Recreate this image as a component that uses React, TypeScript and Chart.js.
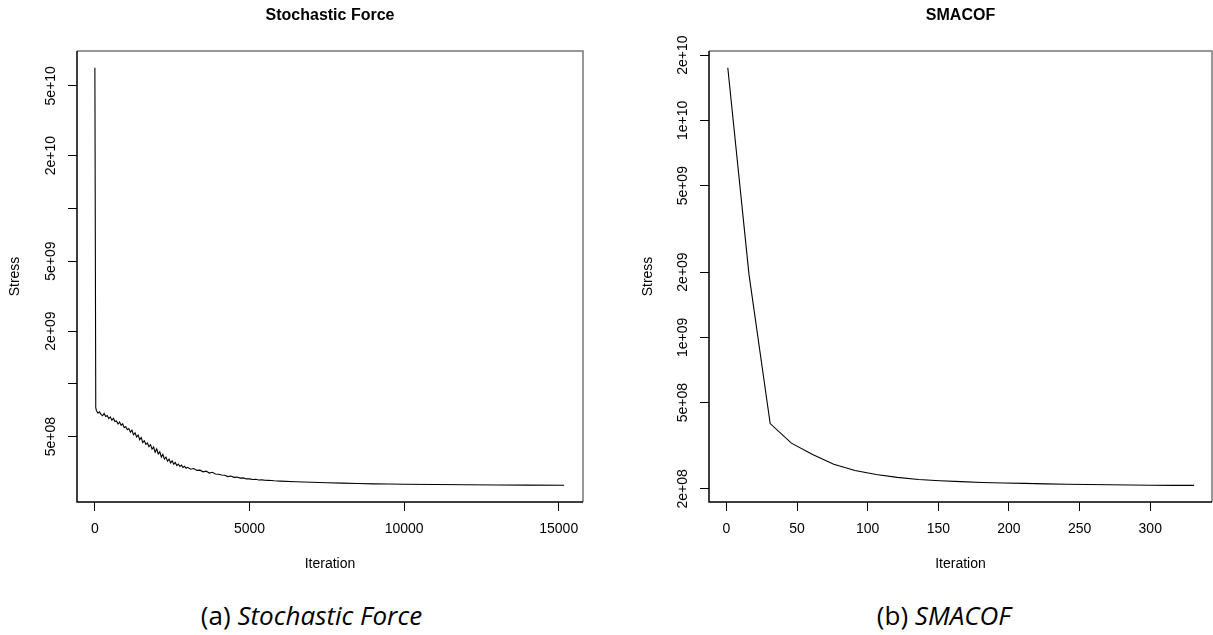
import React, { useEffect, useRef } from "react";
import { Chart, registerables } from "chart.js";

Chart.register(...registerables);

// ---------- Stochastic Force data (stress in units of 1e8) ----------
const sfIter = [
  1, 30, 50, 100, 150, 200, 250, 300, 350, 400, 450, 500, 550, 600, 650, 700, 750, 800, 850, 900, 950,
  1000, 1050, 1100, 1150, 1200, 1250, 1300, 1350, 1400, 1450, 1500, 1550, 1600, 1650, 1700, 1750, 1800,
  1850, 1900, 1950, 2000, 2050, 2100, 2150, 2200, 2250, 2300, 2350, 2400, 2450, 2500, 2550, 2600, 2650,
  2700, 2750, 2800, 2850, 2900, 2950, 3000, 3100, 3200, 3300, 3400, 3500, 3600, 3700, 3800, 3900, 4000,
  4100, 4200, 4300, 4400, 4500, 4600, 4700, 4800, 4900, 5000, 5100, 5200, 5300, 5400, 5500, 5600, 5700,
  5800, 5900, 6000, 6500, 7000, 7500, 8000, 8500, 9000, 9500, 10000, 11000, 12000, 13000, 14000, 15176,
];
const sfStressE8 = [
  634, 7.3, 7.05, 6.8, 6.92, 6.7, 6.58, 6.78, 6.52, 6.6, 6.34, 6.48, 6.2, 6.36, 6.1, 6.14, 5.9, 6.06,
  5.8, 5.92, 5.62, 5.7, 5.48, 5.56, 5.3, 5.44, 5.12, 5.26, 4.98, 5.1, 4.8, 4.94, 4.62, 4.74, 4.52, 4.6,
  4.38, 4.5, 4.24, 4.36, 4.08, 4.26, 3.98, 4.1, 3.82, 3.96, 3.72, 3.82, 3.62, 3.72, 3.54, 3.64, 3.48, 3.56,
  3.42, 3.49, 3.38, 3.44, 3.34, 3.39, 3.3, 3.34, 3.26, 3.29, 3.21, 3.22, 3.15, 3.18, 3.1, 3.13, 3.06, 3.05,
  3.02, 3.01, 2.96, 2.98, 2.93, 2.94, 2.9, 2.91, 2.87, 2.87, 2.85, 2.855, 2.83, 2.835, 2.82, 2.815, 2.81,
  2.8, 2.795, 2.79, 2.765, 2.745, 2.73, 2.715, 2.7, 2.69, 2.683, 2.675, 2.665, 2.658, 2.652, 2.646, 2.64,
];

// ---------- SMACOF data (stress in units of 1e8) ----------
const smIter = [1, 16, 31, 46, 61, 76, 91, 106, 121, 136, 151, 166, 181, 196, 211, 226, 241, 256, 271, 286, 301, 316, 331];
const smStressE8 = [
  175, 19.5, 4.0, 3.25, 2.88, 2.6, 2.43, 2.33, 2.26, 2.21, 2.18, 2.16, 2.14, 2.13, 2.12, 2.11, 2.1, 2.095,
  2.09, 2.085, 2.08, 2.077, 2.075,
];

// ---------- axis ticks ----------
const sfXTicks = [0, 5000, 10000, 15000];
const sfYTicks = [5e8, 1e9, 2e9, 5e9, 1e10, 2e10, 5e10];
const sfYLabels = ["5e+08", "", "2e+09", "5e+09", "", "2e+10", "5e+10"];
const smXTicks = [0, 50, 100, 150, 200, 250, 300];
const smYTicks = [2e8, 5e8, 1e9, 2e9, 5e9, 1e10, 2e10];
const smYLabels = ["2e+08", "5e+08", "1e+09", "2e+09", "5e+09", "1e+10", "2e+10"];

const FONT = "'Liberation Sans', Arial, Helvetica, sans-serif";

type PanelProps = {
  title: string;
  iters: number[];
  stressE8: number[];
  xTicks: number[];
  yTicks: number[];
  yLabels: string[];
  xMin: number;
  xMax: number;
  yMin: number;
  yMax: number;
  width: number;
  height: number;
  areaLeft: number;
  areaRight: number;
  areaTop: number;
  areaBottom: number;
  stressX: number;
  left: number;
};

function Panel(p: PanelProps) {
  const ref = useRef<HTMLCanvasElement | null>(null);
  useEffect(() => {
    if (!ref.current) return;
    const points = p.iters.map((x, i) => ({ x, y: p.stressE8[i] * 1e8 }));
    const framePlugin = {
      id: "rframe",
      afterDraw(chart: any) {
        const { ctx, chartArea: a } = chart;
        ctx.save();
        ctx.strokeStyle = "#777";
        ctx.lineWidth = 1.5;
        ctx.beginPath();
        ctx.moveTo(a.left, a.top);
        ctx.lineTo(a.right, a.top);
        ctx.lineTo(a.right, a.bottom);
        ctx.stroke();
        ctx.strokeStyle = "#000";
        ctx.beginPath();
        ctx.moveTo(a.left, a.top);
        ctx.lineTo(a.left, a.bottom);
        ctx.lineTo(a.right, a.bottom);
        ctx.stroke();
        ctx.fillStyle = "#000";
        ctx.textAlign = "center";
        ctx.textBaseline = "middle";
        const cx = (a.left + a.right) / 2;
        ctx.font = `bold 16px ${FONT}`;
        ctx.fillText(p.title, cx, 16);
        ctx.font = `14px ${FONT}`;
        ctx.fillText("Iteration", cx, 564.3);
        ctx.translate(p.stressX, (a.top + a.bottom) / 2);
        ctx.rotate(-Math.PI / 2);
        ctx.fillText("Stress", 0, 0);
        ctx.restore();
      },
    };
    const chart = new Chart(ref.current, {
      type: "line",
      data: {
        datasets: [
          {
            data: points,
            borderColor: "#000",
            borderWidth: 1.1,
            pointRadius: 0,
            tension: 0,
            fill: false,
          },
        ],
      },
      options: {
        animation: false,
        responsive: false,
        devicePixelRatio: 1,
        layout: {
          padding: { left: 0, top: p.areaTop, right: p.width - p.areaRight, bottom: 0 },
        },
        plugins: { legend: { display: false }, title: { display: false }, tooltip: { enabled: false } },
        scales: {
          x: {
            type: "linear",
            min: p.xMin,
            max: p.xMax,
            afterBuildTicks: (s: any) => {
              s.ticks = p.xTicks.map((v) => ({ value: v }));
            },
            afterFit: (s: any) => {
              s.height = p.height - p.areaBottom;
            },
            grid: { display: true, drawOnChartArea: false, drawTicks: true, tickLength: 9, color: "#000", lineWidth: 1 },
            border: { display: false },
            ticks: {
              autoSkip: false,
              maxRotation: 0,
              minRotation: 0,
              padding: 10,
              color: "#000",
              font: { family: FONT, size: 14 },
              callback: (v: any) => String(v),
            },
          },
          y: {
            type: "logarithmic",
            min: p.yMin,
            max: p.yMax,
            afterBuildTicks: (s: any) => {
              s.ticks = p.yTicks.map((v) => ({ value: v }));
            },
            afterFit: (s: any) => {
              s.width = p.areaLeft;
            },
            grid: { display: true, drawOnChartArea: false, drawTicks: true, tickLength: 9, color: "#000", lineWidth: 1 },
            border: { display: false },
            ticks: {
              autoSkip: false,
              minRotation: 90,
              maxRotation: 90,
              crossAlign: "center",
              padding: -3.2,
              color: "#000",
              font: { family: FONT, size: 14 },
              callback: (v: any) => {
                const idx = p.yTicks.findIndex((t) => Math.abs(t - v) / t < 1e-6);
                return idx >= 0 ? p.yLabels[idx] : "";
              },
            },
          },
        },
      } as any,
      plugins: [framePlugin],
    });
    return () => chart.destroy();
  }, []);
  return (
    <canvas
      ref={ref}
      width={p.width}
      height={p.height}
      style={{ position: "absolute", left: p.left, top: 0, width: p.width, height: p.height, display: "block" }}
    />
  );
}

const captionStyle: React.CSSProperties = {
  position: "absolute",
  top: 599,
  width: 400,
  textAlign: "center",
  fontFamily: "'Open Sans', 'Noto Sans', sans-serif",
  fontSize: 26,
  lineHeight: "32px",
  color: "#000",
  whiteSpace: "nowrap",
};

export default function App() {
  return (
    <div style={{ position: "absolute", left: 0, top: 0, width: 1213, height: 635, background: "#fff", overflow: "hidden" }}>
      <Panel
        title="Stochastic Force"
        iters={sfIter}
        stressE8={sfStressE8}
        xTicks={sfXTicks}
        yTicks={sfYTicks}
        yLabels={sfYLabels}
        xMin={-577}
        xMax={15785}
        yMin={2.12e8}
        yMax={7.89e10}
        width={606}
        height={590}
        areaLeft={77}
        areaRight={583}
        areaTop={51}
        areaBottom={502}
        stressX={15.4}
        left={0}
      />
      <Panel
        title="SMACOF"
        iters={smIter}
        stressE8={smStressE8}
        xTicks={smXTicks}
        yTicks={smYTicks}
        yLabels={smYLabels}
        xMin={-12.3}
        xMax={343.7}
        yMin={1.74e8}
        yMax={2.09e10}
        width={607}
        height={590}
        areaLeft={103}
        areaRight={606}
        areaTop={51}
        areaBottom={502}
        stressX={42.6}
        left={606}
      />
      <div style={{ ...captionStyle, left: 311.5 - 200 }}>
        (a) <i>Stochastic Force</i>
      </div>
      <div style={{ ...captionStyle, left: 943.8 - 200 }}>
        (b) <i>SMACOF</i>
      </div>
    </div>
  );
}
